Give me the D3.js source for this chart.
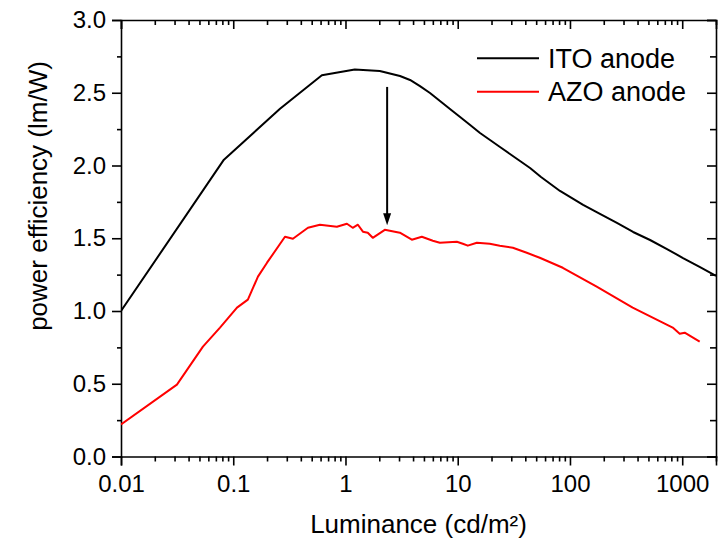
<!DOCTYPE html>
<html>
<head>
<meta charset="utf-8">
<script src="https://cdn.jsdelivr.net/npm/d3@7/dist/d3.min.js"></script>
<style>
  html, body { margin: 0; padding: 0; background: #fff; }
  svg { display: block; font-family: "Liberation Sans", Arial, Helvetica, sans-serif; }
  .axis path, .axis line { stroke: #000; stroke-width: 1.6px; }
  .axis text { fill: #000; }
</style>
</head>
<body>
<svg id="chart" width="724" height="542"></svg>
<script>
// Luminance (cd/m²) and power efficiency (lm/W) for the two anodes
const luminanceITO = [0.01, 0.0826, 0.261, 0.616, 1.21, 2.02, 3.06, 3.76, 4.61, 5.66, 6.95, 8.53, 10.5, 12.9, 15.8, 19.4, 23.8, 29.2, 35.9, 44.1, 55.2, 81.5, 131, 185, 262, 365, 517, 732, 1017, 1442, 2000];
const efficiencyITO = [1.00, 2.04, 2.39, 2.62, 2.66, 2.65, 2.615, 2.588, 2.546, 2.498, 2.443, 2.388, 2.333, 2.278, 2.223, 2.175, 2.127, 2.079, 2.031, 1.983, 1.921, 1.825, 1.729, 1.667, 1.605, 1.543, 1.488, 1.426, 1.364, 1.302, 1.241];

const luminanceAZO = [0.01, 0.0315, 0.0537, 0.0762, 0.108, 0.135, 0.166, 0.200, 0.289, 0.340, 0.463, 0.592, 0.838, 1.03, 1.16, 1.29, 1.43, 1.58, 1.75, 2.24, 2.75, 3.05, 3.90, 4.79, 6.00, 6.93, 9.82, 11.1, 12.3, 14.8, 19.3, 23.7, 31.0, 41.2, 53.8, 86.3, 173, 362, 823, 950, 1052, 1431];
const efficiencyAZO = [0.22, 0.494, 0.755, 0.886, 1.023, 1.078, 1.236, 1.332, 1.51, 1.497, 1.572, 1.593, 1.579, 1.60, 1.572, 1.593, 1.545, 1.538, 1.503, 1.558, 1.545, 1.538, 1.49, 1.51, 1.483, 1.469, 1.476, 1.462, 1.449, 1.469, 1.462, 1.449, 1.435, 1.40, 1.366, 1.297, 1.167, 1.023, 0.886, 0.844, 0.851, 0.789];

const seriesNames = ["ITO anode", "AZO anode"];
const seriesColors = ["#000000", "#ff0000"];

const xMajorTicks = [0.01, 0.1, 1, 10, 100, 1000];
const xTickLabels = ["0.01", "0.1", "1", "10", "100", "1000"];
const yMajorTicks = [0, 0.5, 1.0, 1.5, 2.0, 2.5, 3.0];
const yMinorTicks = [0.25, 0.75, 1.25, 1.75, 2.25, 2.75];

// arrow marking the AZO value at the same luminance
const arrowLuminance = 2.35;
const arrowFrom = 2.54;
const arrowTo = 1.59;

const svg = d3.select("#chart");
const plotLeft = 121, plotRight = 716, plotTop = 20, plotBottom = 456.5;

const x = d3.scaleLog().domain([0.01, 2000]).range([plotLeft, plotRight]);
const y = d3.scaleLinear().domain([0, 3]).range([plotBottom, plotTop]);

// minor ticks 2..9 within each decade, inside the domain
const xMinorTicks = [];
for (let e = -2; e <= 3; e++) {
  for (let m = 2; m <= 9; m++) {
    const v = m * Math.pow(10, e);
    if (v <= 2000) xMinorTicks.push(v);
  }
}

function drawAxis(axisGen, transform) {
  return svg.append("g").attr("class", "axis").attr("transform", transform).call(axisGen);
}

// bottom axis
drawAxis(d3.axisBottom(x).tickValues(xMinorTicks).tickSize(5).tickFormat(""), `translate(0,${plotBottom})`)
  .select(".domain").remove();
drawAxis(d3.axisBottom(x).tickValues(xMajorTicks).tickSizeOuter(0).tickSize(9)
  .tickFormat((d, i) => xTickLabels[i]).tickPadding(9), `translate(0,${plotBottom})`)
  .selectAll("text").style("font-size", "24px");

// top axis (ticks pointing into the plot)
drawAxis(d3.axisBottom(x).tickValues(xMinorTicks).tickSize(5).tickFormat(""), `translate(0,${plotTop})`)
  .select(".domain").remove();
drawAxis(d3.axisBottom(x).tickValues(xMajorTicks).tickSizeOuter(0).tickSize(9).tickFormat(""), `translate(0,${plotTop})`);

// left axis
drawAxis(d3.axisLeft(y).tickValues(yMinorTicks).tickSize(4).tickFormat(""), `translate(${plotLeft},0)`)
  .select(".domain").remove();
drawAxis(d3.axisLeft(y).tickValues(yMajorTicks).tickSizeOuter(0).tickSize(9)
  .tickFormat(d3.format(".1f")).tickPadding(6), `translate(${plotLeft},0)`)
  .selectAll("text").style("font-size", "24px");

// right axis (ticks pointing into the plot)
drawAxis(d3.axisLeft(y).tickValues(yMinorTicks).tickSize(6).tickFormat(""), `translate(${plotRight},0)`)
  .select(".domain").remove();
drawAxis(d3.axisLeft(y).tickValues(yMajorTicks).tickSizeOuter(0).tickSize(9).tickFormat(""), `translate(${plotRight},0)`);

// curves, clipped to the plot frame
svg.append("clipPath").attr("id", "plot-clip")
  .append("rect").attr("x", plotLeft).attr("y", plotTop)
  .attr("width", plotRight - plotLeft).attr("height", plotBottom - plotTop);

const line = d3.line().x(d => x(d[0])).y(d => y(d[1]));
const series = [
  d3.zip(luminanceITO, efficiencyITO),
  d3.zip(luminanceAZO, efficiencyAZO)
];
series.forEach((pts, i) => {
  svg.append("path")
    .datum(pts)
    .attr("d", line)
    .attr("clip-path", "url(#plot-clip)")
    .attr("fill", "none")
    .attr("stroke", seriesColors[i])
    .attr("stroke-width", 2)
    .attr("stroke-linejoin", "round");
});

// arrow
const ax = x(arrowLuminance);
const headLen = 12, headHalf = 4;
svg.append("line")
  .attr("x1", ax).attr("x2", ax)
  .attr("y1", y(arrowFrom)).attr("y2", y(arrowTo) - headLen + 1)
  .attr("stroke", "#000").attr("stroke-width", 2);
svg.append("path")
  .attr("d", `M${ax - headHalf},${y(arrowTo) - headLen} L${ax + headHalf},${y(arrowTo) - headLen} L${ax},${y(arrowTo)} Z`)
  .attr("fill", "#000");

// legend
const legend = svg.append("g").attr("transform", "translate(477,58.3)");
seriesNames.forEach((name, i) => {
  const g = legend.append("g").attr("transform", `translate(0,${i * 33.4})`);
  g.append("line").attr("x1", 0).attr("x2", 62).attr("y1", 0).attr("y2", 0)
    .attr("stroke", seriesColors[i]).attr("stroke-width", 2);
  g.append("text").attr("x", 71).attr("y", 9.5)
    .style("font-size", "27px").attr("fill", "#000").text(name);
});

// axis titles
svg.append("text")
  .attr("x", 418.5).attr("y", 533)
  .attr("text-anchor", "middle")
  .style("font-size", "26px")
  .text("Luminance (cd/m²)");

svg.append("text")
  .attr("transform", "translate(47,196) rotate(-90)")
  .attr("text-anchor", "middle")
  .style("font-size", "26px")
  .text("power efficiency (lm/W)");
</script>
</body>
</html>
